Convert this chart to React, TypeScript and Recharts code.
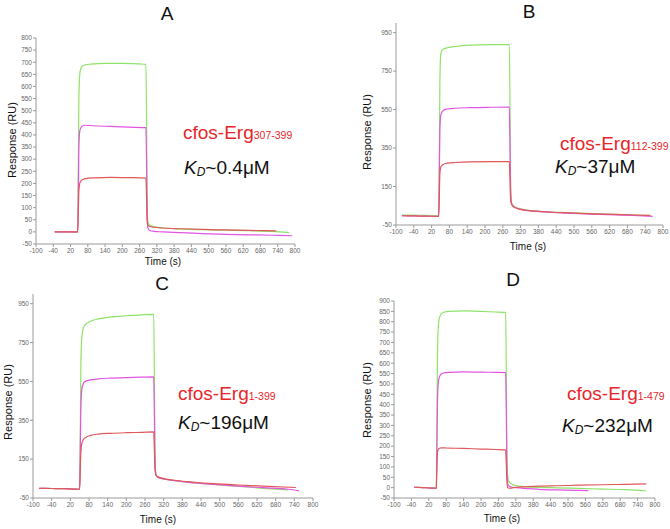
import React from "react";
import { Line, LineChart, XAxis, YAxis } from "recharts";

// SPR sensorgrams, four panels (A-D), three concentrations each

const X_TICKS = [-100, -40, 20, 80, 140, 200, 260, 320, 380, 440, 500, 560, 620, 680, 740, 800];
const Y_TICKS_A = [-50, 0, 50, 100, 150, 200, 250, 300, 350, 400, 450, 500, 550, 600, 650, 700, 750, 800];
const Y_TICKS_BC = [-50, 150, 350, 550, 750, 950];
const Y_TICKS_D = [-50, 0, 50, 100, 150, 200, 250, 300, 350, 400, 450, 500, 550, 600, 650, 700, 750, 800, 850, 900];

// --- panel A ---
const A_GREEN_T = [-35, 0, 30, 45, 47, 49, 52, 56, 62, 72, 90, 140, 200, 260, 282, 284, 286, 289, 295, 310, 340, 400, 480, 560, 640, 720, 780];
const A_GREEN_V = [0, 0, -1, 0, 250, 550, 650, 675, 684, 689, 692, 695, 695, 693, 691, 500, 150, 40, 28, 22, 17, 12, 9, 7, 5, 2, -3];
const A_MAG_T = [-35, 0, 45, 47, 49, 52, 56, 62, 72, 100, 160, 220, 282, 284, 286, 289, 295, 310, 340, 400, 480, 560, 640, 720, 790];
const A_MAG_V = [0, 0, 0, 150, 350, 415, 430, 437, 440, 438, 435, 432, 430, 300, 80, 15, 6, 2, 0, -3, -7, -10, -12, -14, -16];
const A_RED_T = [-35, 0, 45, 47, 49, 52, 56, 62, 72, 100, 160, 220, 282, 284, 286, 289, 295, 310, 340, 400, 480, 560, 640, 735];
const A_RED_V = [0, 0, 0, 80, 170, 200, 210, 216, 220, 223, 225, 224, 222, 150, 50, 28, 22, 19, 16, 13, 10, 8, 6, 4];

// --- panel B ---
const B_GREEN_T = [-80, -40, 0, 44, 46, 48, 51, 55, 62, 75, 100, 150, 220, 282, 284, 286, 289, 295, 310, 340, 400, 480, 560, 640, 700, 760];
const B_GREEN_V = [2, 1, 0, -2, 300, 700, 840, 858, 866, 872, 878, 885, 888, 888, 600, 200, 70, 50, 38, 28, 20, 14, 9, 5, 2, -1];
const B_MAG_T = [-80, -40, 0, 44, 46, 48, 51, 55, 62, 75, 100, 150, 220, 282, 284, 286, 289, 295, 310, 340, 400, 480, 560, 640, 700, 765];
const B_MAG_V = [-2, -3, -4, -5, 200, 450, 520, 538, 548, 553, 557, 560, 562, 563, 400, 150, 65, 48, 36, 26, 18, 12, 7, 3, 0, -5];
const B_RED_T = [-80, -40, 0, 44, 46, 48, 51, 55, 62, 75, 100, 150, 220, 282, 284, 286, 289, 295, 310, 340, 400, 480, 560, 640, 700, 755];
const B_RED_V = [-2, -3, -4, -5, 100, 220, 250, 260, 267, 272, 275, 278, 279, 279, 200, 90, 60, 46, 35, 26, 19, 13, 8, 5, 2, 0];

// --- panel C ---
const C_GREEN_T = [-80, -40, 0, 30, 50, 52, 54, 57, 62, 70, 85, 110, 150, 200, 250, 288, 290, 292, 295, 300, 320, 360, 420, 480, 560, 640, 720];
const C_GREEN_V = [0, -1, -2, -4, -5, 300, 650, 780, 825, 845, 860, 872, 882, 888, 893, 895, 600, 200, 70, 58, 48, 38, 28, 20, 10, 0, -8];
const C_MAG_T = [-80, -40, 0, 30, 50, 52, 54, 57, 62, 70, 85, 110, 150, 200, 250, 288, 290, 292, 295, 300, 320, 360, 420, 480, 560, 640, 720, 755];
const C_MAG_V = [0, -1, -2, -4, -5, 200, 420, 510, 540, 552, 558, 563, 567, 570, 572, 573, 400, 150, 70, 58, 48, 38, 28, 20, 11, 3, -5, -13];
const C_RED_T = [-80, -40, 0, 30, 50, 52, 54, 57, 62, 70, 85, 110, 150, 200, 250, 288, 290, 292, 295, 300, 320, 360, 420, 480, 560, 640, 745];
const C_RED_V = [0, -1, -2, -4, -5, 100, 190, 230, 250, 262, 272, 279, 283, 286, 288, 290, 200, 100, 70, 60, 50, 40, 31, 24, 17, 11, 4];

// --- panel D ---
const D_GREEN_T = [-30, 0, 30, 46, 48, 50, 53, 57, 63, 72, 90, 140, 200, 250, 285, 287, 289, 292, 296, 305, 320, 350, 400, 460, 540, 620, 700, 770];
const D_GREEN_V = [2, 0, -2, -3, 300, 650, 780, 820, 838, 846, 850, 852, 850, 847, 845, 600, 200, 60, 30, 18, 10, 5, 1, -1, -4, -7, -10, -15];
const D_MAG_T = [-30, 0, 30, 46, 48, 50, 53, 57, 63, 72, 90, 140, 200, 250, 285, 287, 289, 292, 296, 305, 320, 350, 400, 460, 520, 570];
const D_MAG_V = [2, 0, -2, -3, 200, 420, 510, 535, 548, 553, 556, 558, 557, 556, 555, 400, 120, 20, 8, 3, 0, -4, -8, -11, -13, -14];
const D_RED_T = [-30, 0, 30, 46, 48, 50, 53, 57, 63, 80, 140, 200, 250, 285, 287, 289, 292, 296, 305, 320, 350, 400, 460, 540, 620, 700, 770];
const D_RED_V = [2, 0, -2, -3, 100, 170, 186, 190, 192, 191, 189, 186, 184, 182, 120, 40, 0, -3, -2, 1, 4, 7, 9, 12, 14, 16, 18];

const COLORS = {
  green: "#8ee368",
  magenta: "#e254e2",
  red: "#e0585a",
  axis: "#9a9a9a",
  tick: "#666",
  label: "#e8262a",
};

const FONT = "'Liberation Sans', Arial, sans-serif";

function zip(t: number[], v: number[]) {
  return t.map((x, i) => ({ t: x, v: v[i] }));
}

type PanelProps = {
  left: number; // plot area, page px
  top: number;
  right: number;
  bottom: number;
  yDomain: [number, number];
  yTicks: number[];
  series: { t: number[]; v: number[]; color: string }[];
};

function Panel({ left, top, right, bottom, yDomain, yTicks, series }: PanelProps) {
  const plotW = right - left;
  const plotH = bottom - top;
  return (
    <div style={{ position: "absolute", left: left - 40, top: top - 10 }}>
      <LineChart
        width={plotW + 50}
        height={plotH + 30}
        margin={{ top: 10, right: 10, left: 0, bottom: 0 }}
      >
        <XAxis
          type="number"
          dataKey="t"
          domain={[-100, 800]}
          ticks={X_TICKS}
          interval={0}
          allowDataOverflow
          height={20}
          tickSize={3}
          tickMargin={1}
          stroke={COLORS.axis}
          tick={{ fontSize: 6.5, fill: COLORS.tick, fontFamily: FONT }}
        />
        <YAxis
          type="number"
          domain={yDomain}
          ticks={yTicks}
          interval={0}
          allowDataOverflow
          width={40}
          tickSize={3}
          tickMargin={1}
          stroke={COLORS.axis}
          tick={{ fontSize: 6.5, fill: COLORS.tick, fontFamily: FONT }}
        />
        {series.map((s, i) => (
          <Line
            key={i}
            data={zip(s.t, s.v)}
            dataKey="v"
            type="monotone"
            stroke={s.color}
            strokeWidth={1.2}
            dot={false}
            activeDot={false}
            isAnimationActive={false}
          />
        ))}
      </LineChart>
    </div>
  );
}

function Txt({
  x,
  y,
  size,
  children,
  center = true,
  rotate = false,
  color = "#111",
}: {
  x: number;
  y: number;
  size: number;
  children: React.ReactNode;
  center?: boolean;
  rotate?: boolean;
  color?: string;
}) {
  const tf = rotate
    ? "translate(-50%, -50%) rotate(-90deg)"
    : center
    ? "translate(-50%, -50%)"
    : "translateY(-50%)";
  return (
    <div
      style={{
        position: "absolute",
        left: x,
        top: y,
        transform: tf,
        fontSize: size,
        fontFamily: FONT,
        color,
        whiteSpace: "nowrap",
        lineHeight: 1,
      }}
    >
      {children}
    </div>
  );
}

function Construct({ x, y, sub }: { x: number; y: number; sub: string }) {
  return (
    <Txt x={x} y={y} size={19} center={false} color={COLORS.label}>
      cfos-Erg<span style={{ fontSize: 10.5 }}>{sub}</span>
    </Txt>
  );
}

function Kd({ x, y, value }: { x: number; y: number; value: string }) {
  return (
    <Txt x={x} y={y} size={19} center={false}>
      <i>K</i>
      <i style={{ fontSize: 12, position: "relative", top: 2 }}>D</i>~{value}μM
    </Txt>
  );
}

export default function App() {
  return (
    <div style={{ position: "absolute", left: 0, top: 0, width: 670, height: 529, background: "#fff", overflow: "hidden" }}>
      <Panel
        left={36}
        top={38}
        right={295}
        bottom={244}
        yDomain={[-50, 800]}
        yTicks={Y_TICKS_A}
        series={[
          { t: A_GREEN_T, v: A_GREEN_V, color: COLORS.green },
          { t: A_MAG_T, v: A_MAG_V, color: COLORS.magenta },
          { t: A_RED_T, v: A_RED_V, color: COLORS.red },
        ]}
      />
      <Panel
        left={396}
        top={23}
        right={663}
        bottom={225}
        yDomain={[-50, 1000]}
        yTicks={Y_TICKS_BC}
        series={[
          { t: B_GREEN_T, v: B_GREEN_V, color: COLORS.green },
          { t: B_MAG_T, v: B_MAG_V, color: COLORS.magenta },
          { t: B_RED_T, v: B_RED_V, color: COLORS.red },
        ]}
      />
      <Panel
        left={33}
        top={294}
        right={313}
        bottom={498}
        yDomain={[-50, 1000]}
        yTicks={Y_TICKS_BC}
        series={[
          { t: C_GREEN_T, v: C_GREEN_V, color: COLORS.green },
          { t: C_MAG_T, v: C_MAG_V, color: COLORS.magenta },
          { t: C_RED_T, v: C_RED_V, color: COLORS.red },
        ]}
      />
      <Panel
        left={394}
        top={301}
        right={655}
        bottom={498}
        yDomain={[-50, 900]}
        yTicks={Y_TICKS_D}
        series={[
          { t: D_GREEN_T, v: D_GREEN_V, color: COLORS.green },
          { t: D_MAG_T, v: D_MAG_V, color: COLORS.magenta },
          { t: D_RED_T, v: D_RED_V, color: COLORS.red },
        ]}
      />

      {/* panel letters */}
      <Txt x={167} y={13} size={19}>A</Txt>
      <Txt x={529} y={11} size={19}>B</Txt>
      <Txt x={162} y={283} size={19}>C</Txt>
      <Txt x={513} y={279} size={19}>D</Txt>

      {/* axis titles */}
      <Txt x={12} y={140} size={11} rotate>Response (RU)</Txt>
      <Txt x={367} y={132} size={11} rotate>Response (RU)</Txt>
      <Txt x={8} y={402} size={11} rotate>Response (RU)</Txt>
      <Txt x={367} y={400} size={11} rotate>Response (RU)</Txt>
      <Txt x={163} y={262} size={10}>Time (s)</Txt>
      <Txt x={528} y={247} size={10}>Time (s)</Txt>
      <Txt x={158} y={520} size={10}>Time (s)</Txt>
      <Txt x={502} y={519} size={10}>Time (s)</Txt>

      {/* annotations */}
      <Construct x={183} y={132} sub="307-399" />
      <Kd x={184} y={167} value="0.4" />
      <Construct x={560} y={143} sub="112-399" />
      <Kd x={555} y={166} value="37" />
      <Construct x={178} y={393} sub="1-399" />
      <Kd x={178} y={422} value="196" />
      <Construct x={567} y={393} sub="1-479" />
      <Kd x={562} y={425} value="232" />
    </div>
  );
}
